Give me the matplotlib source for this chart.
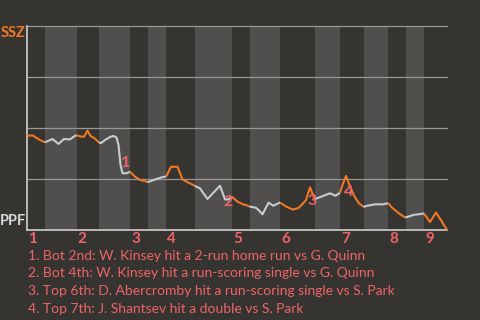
import matplotlib
matplotlib.use('Agg')
from matplotlib import pyplot as plt

# Win probability chart, SSZ (away, top) vs PPF (home, bottom)
# x = play progress, y = SSZ win probability in percent
play_x = [0, 1.2, 1.8, 2.6, 3.6,
          5.1, 6.3, 7.4, 8.6, 9.6, 9.9,
          10.8, 11.4, 12.1, 12.7, 13.5, 14.1, 14.4,
          14.8, 15.6, 16.6, 17.3, 17.9, 18.3, 18.7, 19.1, 19.9, 20.6,
          21.6, 22.6, 23.6, 24.1,
          25.3, 26.3, 27.3, 27.8,
          28.8, 30.1, 30.6, 31.1, 31.9, 32.9, 33.6,
          34.6, 36.1, 38.6, 39.6, 40.3, 41.0,
          42.1, 43.2, 44.2, 44.5,
          45.8, 46.3, 47.1, 48.3, 49.3, 50.5, 50.6,
          51.9, 53.2, 54.3, 55.1, 55.8, 56.6, 57.5, 57.6,
          58.3, 59.3, 60.6, 61.7, 62.6,
          63.1, 63.8, 64.6, 65.5, 66.3, 67.3,
          67.9, 69.6, 71.3, 72.2,
          73.0, 74.3, 75.4, 75.7,
          77.3, 78.6, 79.4,
          80.6, 81.8, 82.9, 84]
ssz_prob = [46.3, 46.3, 45.3, 44.1, 43.0,
            44.6, 42.2, 44.6, 44.4, 46.2, 46.4,
            45.8, 45.7, 48.7, 46.1, 45.0, 43.6, 42.9,
            42.6, 44.1, 45.6, 46.1, 45.4, 41.7, 31.9, 27.8, 27.8, 28.6,
            26.1, 24.5, 24.0, 23.4,
            24.5, 25.3, 26.1, 26.1,
            31.0, 31.0, 27.9, 24.8, 23.7, 22.5, 21.6,
            20.4, 15.2, 21.7, 15.0, 15.0, 16.3,
            13.9, 12.6, 11.9, 11.5,
            10.9, 9.8, 7.7, 13.4, 11.9, 13.4, 13.4,
            11.4, 10.0, 10.8, 12.7, 14.7, 20.9, 15.4, 15.2,
            15.8, 16.8, 18.0, 16.8, 18.3,
            22.1, 26.5, 21.3, 16.4, 13.4, 11.3,
            11.8, 12.6, 12.6, 13.2,
            11.0, 8.3, 6.5, 6.1,
            7.4, 7.8, 8.1,
            3.9, 8.6, 4.4, 0.0]

# start/end of each half inning (top 1, bot 1, top 2, ...)
half_innings = [0, 3.6, 9.9, 14.4, 20.6, 24.1, 27.8, 33.6, 41.0, 44.5,
                50.6, 57.6, 62.6, 67.3, 72.2, 75.7, 79.4, 84]
innings = ['1', '2', '3', '4', '5', '6', '7', '8', '9']

event_x = [19.8, 40.3, 57.1, 64.3]
event_y = [32.8, 13.7, 14.0, 18.6]
event_notes = ['1. Bot 2nd: W. Kinsey hit a 2-run home run vs G. Quinn',
               '2. Bot 4th: W. Kinsey hit a run-scoring single vs G. Quinn',
               '3. Top 6th: D. Abercromby hit a run-scoring single vs S. Park',
               '4. Top 7th: J. Shantsev hit a double vs S. Park']

away_team = 'SSZ'
home_team = 'PPF'

BG = '#363431'
BAND = '#504f4d'
ORANGE = '#f07822'
GREY = '#c5ccd3'
RED = '#ee6468'

plt.rcParams['font.family'] = ['Lato', 'DejaVu Sans']

fig = plt.figure(figsize=(4.8, 3.2), dpi=100, facecolor=BG)
ax = fig.add_axes([27/480, 1 - 230/320, 420/480, 204/320])
ax.set_facecolor(BG)
ax.set_xlim(half_innings[0], half_innings[-1])
ax.set_ylim(0, 100)

# light bands for the bottom halves
for i in range(1, len(half_innings) - 1, 2):
    ax.axvspan(half_innings[i], half_innings[i + 1], color=BAND, lw=0, zorder=0)

for g in [25, 50, 75, 100]:
    ax.axhline(g, color='#9a9896', lw=0.9, zorder=1, clip_on=False)

# line coloured by half inning
for i in range(len(half_innings) - 1):
    lo, hi = half_innings[i], half_innings[i + 1]
    xs = [x for x in play_x if lo <= x <= hi]
    ys = [y for x, y in zip(play_x, ssz_prob) if lo <= x <= hi]
    ax.plot(xs, ys, color=ORANGE if i % 2 == 0 else GREY, lw=1.5,
            zorder=3, solid_capstyle='butt', clip_on=False)

for n, (ex, ey) in enumerate(zip(event_x, event_y)):
    ax.text(ex, ey, str(n + 1), color=RED, fontsize=11.5, fontweight='bold',
            ha='center', va='center', zorder=4)

for spine in ['top', 'right']:
    ax.spines[spine].set_visible(False)
for spine in ['left', 'bottom']:
    ax.spines[spine].set_color('#cfcfcf')
    ax.spines[spine].set_linewidth(1.2)
ax.set_xticks([])
ax.set_yticks([])

for inn, x0 in zip(innings, half_innings[0::2]):
    ax.text(x0 + 0.2, -4.2, inn, color=RED, fontsize=11, fontweight='bold',
            ha='left', va='center')

fig.text(26/480, 1 - 33/320, away_team, color=ORANGE, fontsize=10.5,
         fontweight='bold', ha='right', va='center')
fig.text(26/480, 1 - 221/320, home_team, color='#d4d6d8', fontsize=10.5,
         fontweight='bold', ha='right', va='center')

for k, note in enumerate(event_notes):
    fig.text(28/480, 1 - (255.5 + 17.7 * k)/320, note, color=RED, fontsize=10,
             ha='left', va='center')

fig.savefig('out.png', dpi=100, facecolor=BG)
